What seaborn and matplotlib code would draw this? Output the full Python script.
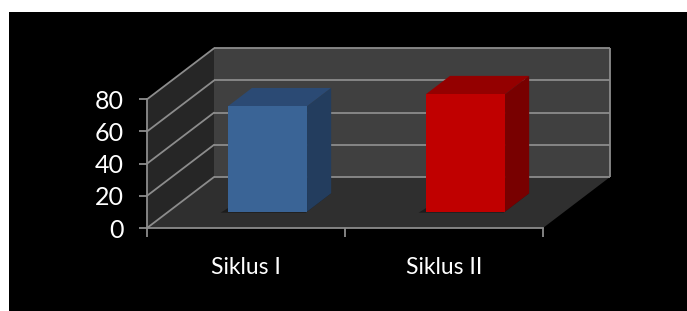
import matplotlib
matplotlib.use("Agg")
import matplotlib.pyplot as plt
import matplotlib.patches as mpatches
import matplotlib.transforms as mtransforms
import numpy as np
import seaborn as sns

# data
categories = ["Siklus I", "Siklus II"]
values = [65.5, 73]
front_colors = ["#3a6496", "#c00000"]
top_colors = ["#2b4a74", "#940000"]
side_colors = ["#233d5e", "#780000"]
y_ticks = [0, 20, 40, 60, 80]

sns.set_theme(style="white")
plt.rcParams["font.family"] = ["Lato", "DejaVu Sans"]

W, H = 687, 311
fig = plt.figure(figsize=(W / 100, H / 100), dpi=100)
fig.patch.set_facecolor("white")
fig.add_artist(mpatches.Rectangle((9 / W, 0), 1, (H - 12) / H, transform=fig.transFigure,
                                  facecolor="black", edgecolor="none", zorder=-10))

# front plane of the 3d box
ax = fig.add_axes([147 / W, (H - 228) / H, 396 / W, 128.7 / H])
ax.set_facecolor("none")
ax.set_xlim(-0.5, 1.5)
ax.set_ylim(0, 80)

depth = np.array([67.0, 51.0])   # pixel shift from front to back wall
grid_c = "#8c8c8c"


def proj(x, y, d):
    return ax.transData.transform((x, y)) + d * depth


def shift(d):
    return ax.transData + mtransforms.ScaledTranslation(d * depth[0] / 100, d * depth[1] / 100,
                                                         fig.dpi_scale_trans)


pix = mtransforms.IdentityTransform()


def poly(pts, color, z):
    p = mpatches.Polygon(pts, closed=True, facecolor=color, edgecolor="none",
                         transform=pix, zorder=z, clip_on=False)
    ax.add_patch(p)


x0, x1 = ax.get_xlim()
ymax = y_ticks[-1]
# back wall, side wall, floor
poly([proj(x0, 0, 1), proj(x1, 0, 1), proj(x1, ymax, 1), proj(x0, ymax, 1)], "#404040", 0.5)
poly([proj(x0, 0, 0), proj(x0, 0, 1), proj(x0, ymax, 1), proj(x0, ymax, 0)], "#262626", 0.6)
poly([proj(x0, 0, 0), proj(x1, 0, 0), proj(x1, 0, 1), proj(x0, 0, 1)], "#2f2f2f", 0.7)

# gridlines on back wall and side wall
ax.hlines(y_ticks, x0, x1, colors=grid_c, linewidth=1.3, transform=shift(1), zorder=0.8, clip_on=False)
ax.vlines([x1], 0, ymax, colors=grid_c, linewidth=1.3, transform=shift(1), zorder=0.8, clip_on=False)
for t in y_ticks:
    a, b = proj(x0, t, 0), proj(x0, t, 1)
    ax.add_line(plt.Line2D([a[0], b[0]], [a[1], b[1]], color=grid_c, linewidth=1.3,
                           transform=pix, zorder=0.8, clip_on=False))

# bars (front faces via seaborn)
sns.barplot(x=categories, y=values, hue=categories, palette=front_colors, width=0.4,
            ax=ax, legend=False, saturation=1, zorder=3)
d_front, d_back = 0.32, 0.68
for i, bar in enumerate(ax.patches[3:]):
    bx, bw, bh = bar.get_x(), bar.get_width(), bar.get_height()
    bar.set_transform(shift(d_front))
    bar.set_edgecolor("none")
    bar.set_clip_on(False)
    # soft shadow on the floor
    poly([proj(bx - 0.03, 0, d_front - 0.02), proj(bx + bw, 0, d_front - 0.02),
          proj(bx + bw, 0, d_back), proj(bx, 0, d_back)], "#1c1c1c", 1.0)
    # top and side faces
    poly([proj(bx, bh, d_front), proj(bx + bw, bh, d_front),
          proj(bx + bw, bh, d_back), proj(bx, bh, d_back)], top_colors[i], 2)
    poly([proj(bx + bw, 0, d_front), proj(bx + bw, 0, d_back),
          proj(bx + bw, bh, d_back), proj(bx + bw, bh, d_front)], side_colors[i], 2)

# axes lines, ticks, labels
for s in ["top", "right"]:
    ax.spines[s].set_visible(False)
for s in ["left", "bottom"]:
    ax.spines[s].set_color(grid_c)
    ax.spines[s].set_linewidth(1.3)
    ax.spines[s].set_zorder(1)
ax.set_yticks(y_ticks)
ax.set_xticks([0, 1])
ax.set_xticklabels(categories)
ax.set_xticks([-0.5, 0.5, 1.5], minor=True)
ax.tick_params(axis="y", left=True, length=6, width=1.3, color=grid_c, pad=11,
               labelsize=18, labelcolor="white")
ax.tick_params(axis="x", which="major", bottom=False, length=0, pad=21,
               labelsize=16.5, labelcolor="white")
ax.tick_params(axis="x", which="minor", bottom=True, length=6.5, width=1.3, color=grid_c)
ax.set_xlabel("")
ax.set_ylabel("")

fig.savefig("out.png", dpi=100, facecolor=fig.get_facecolor())
